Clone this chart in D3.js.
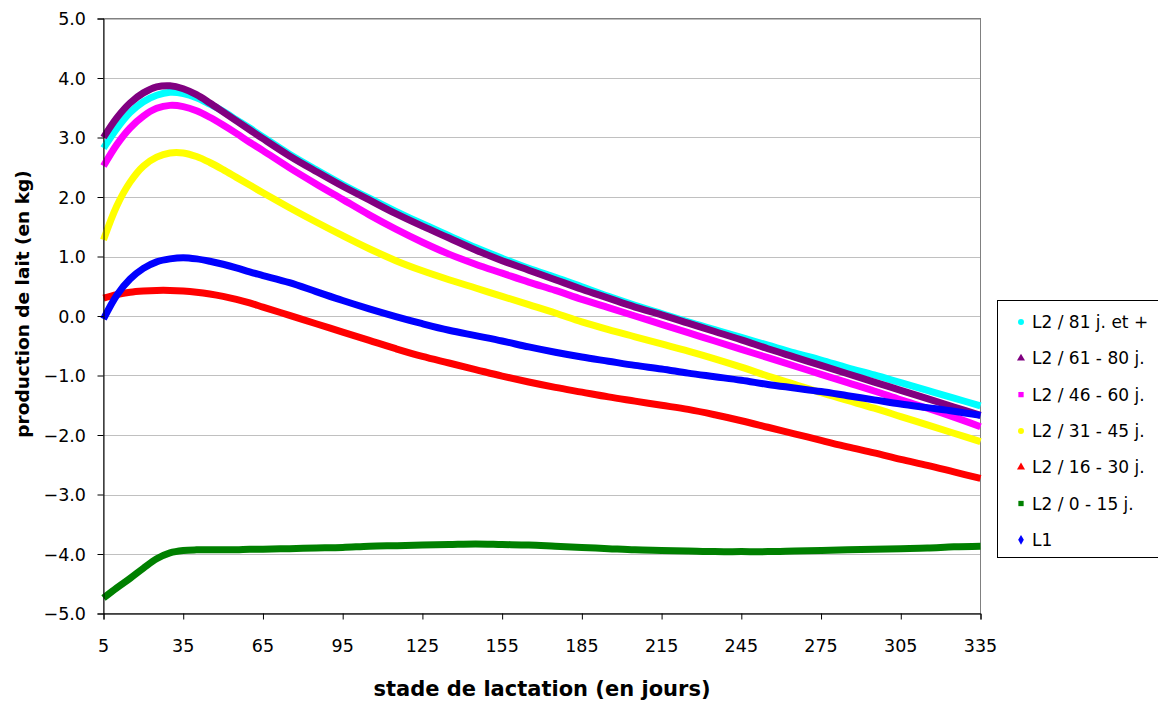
<!DOCTYPE html>
<html>
<head>
<meta charset="utf-8">
<script src="https://cdn.jsdelivr.net/npm/d3@7"></script>
<style>
	body { margin: 0; background: #fff; }
	svg { display: block; font-family: 'DejaVu Sans', sans-serif; }
</style>
</head>
<body>
<div id="chart"></div>
<script>
const days = [5, 10, 15, 20, 25, 30, 35, 40, 45, 50, 55, 60, 65, 75, 85, 95, 105, 115, 125, 135, 145, 155, 165, 175, 185, 195, 205, 215, 225, 235, 245, 255, 265, 275, 285, 295, 305, 315, 325, 335]

const l2_81 = [2.82, 3.15, 3.42, 3.60, 3.71, 3.76, 3.74, 3.67, 3.56, 3.44, 3.30, 3.16, 3.01, 2.72, 2.46, 2.21, 1.98, 1.76, 1.55, 1.35, 1.15, 0.97, 0.80, 0.65, 0.49, 0.33, 0.18, 0.04, -0.10, -0.23, -0.36, -0.49, -0.62, -0.74, -0.87, -0.99, -1.12, -1.25, -1.38, -1.51]
const l2_61 = [3.00, 3.33, 3.58, 3.75, 3.85, 3.87, 3.82, 3.72, 3.58, 3.43, 3.28, 3.13, 2.98, 2.69, 2.43, 2.18, 1.95, 1.72, 1.51, 1.31, 1.11, 0.93, 0.77, 0.61, 0.45, 0.30, 0.15, 0.02, -0.12, -0.26, -0.40, -0.55, -0.69, -0.83, -0.97, -1.11, -1.25, -1.39, -1.53, -1.67]
const l2_46 = [2.52, 2.88, 3.16, 3.36, 3.49, 3.54, 3.52, 3.45, 3.34, 3.21, 3.07, 2.92, 2.78, 2.49, 2.22, 1.96, 1.70, 1.46, 1.24, 1.04, 0.87, 0.72, 0.57, 0.43, 0.28, 0.14, 0.00, -0.14, -0.28, -0.42, -0.56, -0.70, -0.84, -0.98, -1.12, -1.26, -1.41, -1.55, -1.70, -1.86]
const l2_31 = [1.28, 1.85, 2.25, 2.52, 2.67, 2.74, 2.74, 2.68, 2.58, 2.46, 2.33, 2.20, 2.07, 1.82, 1.58, 1.35, 1.13, 0.93, 0.76, 0.61, 0.47, 0.33, 0.19, 0.05, -0.10, -0.23, -0.35, -0.47, -0.59, -0.72, -0.86, -1.01, -1.15, -1.29, -1.42, -1.55, -1.69, -1.83, -1.97, -2.11]
const l2_16 = [0.30, 0.36, 0.40, 0.42, 0.43, 0.43, 0.42, 0.40, 0.37, 0.33, 0.28, 0.22, 0.15, 0.01, -0.13, -0.27, -0.41, -0.55, -0.68, -0.79, -0.90, -1.01, -1.11, -1.20, -1.28, -1.36, -1.43, -1.50, -1.57, -1.66, -1.76, -1.87, -1.98, -2.09, -2.20, -2.30, -2.41, -2.51, -2.62, -2.73]
const l2_0 = [-4.74, -4.57, -4.41, -4.24, -4.08, -3.98, -3.94, -3.93, -3.93, -3.93, -3.93, -3.92, -3.92, -3.91, -3.90, -3.89, -3.87, -3.86, -3.85, -3.84, -3.83, -3.84, -3.85, -3.87, -3.89, -3.91, -3.93, -3.94, -3.95, -3.96, -3.96, -3.96, -3.95, -3.94, -3.93, -3.92, -3.91, -3.90, -3.88, -3.87]
const l1 = [-0.05, 0.35, 0.62, 0.80, 0.91, 0.96, 0.98, 0.96, 0.92, 0.87, 0.81, 0.74, 0.68, 0.56, 0.41, 0.26, 0.12, -0.01, -0.13, -0.24, -0.33, -0.42, -0.52, -0.61, -0.69, -0.76, -0.83, -0.89, -0.96, -1.02, -1.08, -1.15, -1.21, -1.27, -1.34, -1.41, -1.48, -1.54, -1.60, -1.67]

const seriesNames = ['L2 / 81 j. et +', 'L2 / 61 - 80 j.', 'L2 / 46 - 60 j.', 'L2 / 31 - 45 j.', 'L2 / 16 - 30 j.', 'L2 / 0 - 15 j.', 'L1']
const seriesValues = [l2_81, l2_61, l2_46, l2_31, l2_16, l2_0, l1]
const seriesColors = ['#00ffff', '#800080', '#ff00ff', '#ffff00', '#ff0000', '#008000', '#0000ff']
const seriesSymbols = [d3.symbolCircle, d3.symbolTriangle, d3.symbolSquare, d3.symbolCircle, d3.symbolTriangle, d3.symbolSquare, d3.symbolDiamond]

const xTicks = [5, 35, 65, 95, 125, 155, 185, 215, 245, 275, 305, 335]
const yTicks = [-5, -4, -3, -2, -1, 0, 1, 2, 3, 4, 5]

const width = 1158
const height = 701

const svg = d3.select('#chart').append('svg')
	.attr('width', width)
	.attr('height', height)

const x = d3.scaleLinear().domain([5, 335]).range([103.5, 980.5])
const y = d3.scaleLinear().domain([-5, 5]).range([613.5, 18.5])

//gridlines
svg.append('g')
	.selectAll('line')
	.data(yTicks)
	.join('line')
	.attr('x1', x(5))
	.attr('x2', x(335))
	.attr('y1', d => Math.round(y(d)) + 0.5)
	.attr('y2', d => Math.round(y(d)) + 0.5)
	.attr('stroke', '#c0c0c0')
	.attr('stroke-width', 1)

// plot frame (top / right in grey)
svg.append('rect')
	.attr('x', x(5))
	.attr('y', y(5))
	.attr('width', x(335) - x(5))
	.attr('height', y(-5) - y(5))
	.attr('fill', 'none')
	.attr('stroke', '#808080')
	.attr('stroke-width', 1)

// series
const line = d3.line()
	.x(d => x(d[0]))
	.y(d => y(d[1]))
	.curve(d3.curveCatmullRom)

svg.append('g')
	.selectAll('path')
	.data(seriesValues)
	.join('path')
	.attr('d', vals => line(days.map((d, i) => [d, vals[i]])))
	.attr('fill', 'none')
	.attr('stroke', (d, i) => seriesColors[i])
	.attr('stroke-width', 7)
	.attr('stroke-linejoin', 'round')

// axes
const yAxis = d3.axisLeft(y).tickValues(yTicks).tickSize(6).tickFormat('')
const xAxis = d3.axisBottom(x).tickValues(xTicks).tickSize(6).tickFormat('')

svg.append('g')
	.attr('transform', `translate(${x(5)},0)`)
	.call(yAxis)
	.call(g => g.selectAll('path,line').attr('stroke', '#000'))

svg.append('g')
	.attr('transform', `translate(0,${y(-5)})`)
	.call(xAxis)
	.call(g => g.selectAll('path,line').attr('stroke', '#000'))

// tick labels
svg.append('g')
	.selectAll('text')
	.data(yTicks)
	.join('text')
	.attr('x', 86)
	.attr('y', d => y(d) + 6.5)
	.attr('text-anchor', 'end')
	.attr('font-size', '17.5px')
	.text(d => d3.format('.1f')(d))

svg.append('g')
	.selectAll('text')
	.data(xTicks)
	.join('text')
	.attr('x', d => x(d))
	.attr('y', 652)
	.attr('text-anchor', 'middle')
	.attr('font-size', '17.5px')
	.text(d => d)

// axis titles
svg.append('text')
	.attr('x', 542)
	.attr('y', 696)
	.attr('text-anchor', 'middle')
	.attr('font-size', '21px')
	.attr('font-weight', 'bold')
	.text('stade de lactation (en jours)')

svg.append('text')
	.attr('transform', 'translate(29,304) rotate(-90)')
	.attr('text-anchor', 'middle')
	.attr('font-size', '18.5px')
	.attr('font-weight', 'bold')
	.text('production de lait (en kg)')

// legend
const legend = svg.append('g')
legend.append('rect')
	.attr('x', 997.5)
	.attr('y', 300.5)
	.attr('width', 175)
	.attr('height', 257)
	.attr('fill', '#fff')
	.attr('stroke', '#000')
	.attr('stroke-width', 1)

const rows = legend.selectAll('g.row')
	.data(seriesNames)
	.join('g')
	.attr('class', 'row')
	.attr('transform', (d, i) => `translate(0,${322 + i * 36.3})`)

rows.append('path')
	.attr('transform', 'translate(1021,0)')
	.attr('d', (d, i) => d3.symbol().type(seriesSymbols[i]).size(28)())
	.attr('fill', (d, i) => seriesColors[i])

rows.append('text')
	.attr('x', 1032)
	.attr('y', 6)
	.attr('font-size', '17px')
	.text(d => d)
</script>
</body>
</html>
